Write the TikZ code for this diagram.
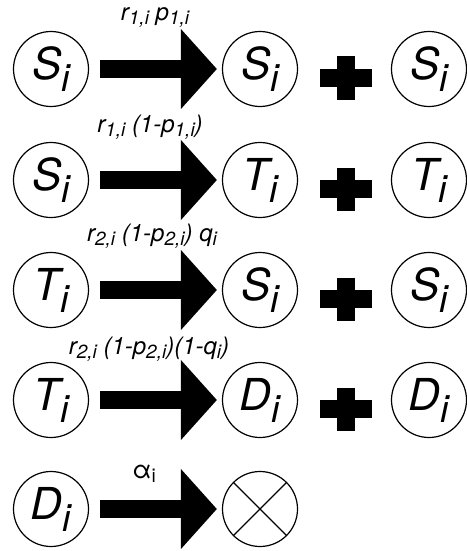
\documentclass[tikz,border=0pt]{standalone}
\usepackage{fontspec}
\setmainfont{TeX Gyre Heros}
\usepackage{tikz}
\usetikzlibrary{arrows.meta}
\newcommand{\idx}[1]{\raisebox{-12pt}{\fontsize{38}{38}\selectfont #1}}
\newcommand{\lo}[1]{\raisebox{-4pt}{\fontsize{19}{19}\selectfont #1}}

\begin{document}
\begin{tikzpicture}[
  x=1pt, y=-1pt,
  species/.style={circle, draw, line width=1.2pt, minimum size=75pt,
    inner sep=0pt, font=\fontsize{44}{44}\selectfont\itshape},
  sink/.style={circle, draw, line width=1.2pt, minimum size=75pt, inner sep=0pt,
    path picture={\draw[line width=1.2pt]
      (path picture bounding box.north west) -- (path picture bounding box.south east)
      (path picture bounding box.north east) -- (path picture bounding box.south west);}},
  plussign/.style={minimum width=52pt, minimum height=43pt, inner sep=0pt,
    path picture={\draw[line width=18pt]
      (path picture bounding box.west) -- (path picture bounding box.east)
      (path picture bounding box.north) -- (path picture bounding box.south);}},
  rate/.style={inner sep=0pt, font=\fontsize{24}{24}\selectfont\itshape},
  fat/.style={line width=18pt, -{Triangle[length=36pt,width=78pt]},
    shorten <=11pt, shorten >=5pt}
]
\useasboundingbox (0,0) rectangle (466,551);

% S -> S + S
\node[species] (s1) at (51,69) {S\idx{i}};
\node[species] (s1a) at (260,69) {S\idx{i}};
\node[plussign] (plus1) at (346,78) {};
\node[species] (s1b) at (429,69) {S\idx{i}};
\node[rate] (k1) at (155,17) {r\lo{1,i} p\lo{1,i}};

% S -> T + T
\node[species] (s2) at (51,180) {S\idx{i}};
\node[species] (t2a) at (260,180) {T\idx{i}};
\node[plussign] (plus2) at (346,189) {};
\node[species] (t2b) at (429,180) {T\idx{i}};
\node[rate] (k2) at (150,127) {r\lo{1,i} (1-p\lo{1,i})};

% T -> S + S
\node[species] (t3) at (51,290) {T\idx{i}};
\node[species] (s3a) at (260,290) {S\idx{i}};
\node[plussign] (plus3) at (346,299) {};
\node[species] (s3b) at (429,290) {S\idx{i}};
\node[rate] (k3) at (152,236) {r\lo{2,i} (1-p\lo{2,i}) q\lo{i}};

% T -> D + D
\node[species] (t4) at (51,400) {T\idx{i}};
\node[species] (d4a) at (260,400) {D\idx{i}};
\node[plussign] (plus4) at (346,409) {};
\node[species] (d4b) at (429,400) {D\idx{i}};
\node[rate] (k4) at (149,349) {r\lo{2,i} (1-p\lo{2,i})(1-q\lo{i})};

% D -> nothing
\node[species] (d5) at (51,509) {D\idx{i}};
\node[sink] (void) at (260,509) {};
\node[rate, font=\fontsize{25}{25}\selectfont] (k5) at (144,474) {α\lo{i}};

\draw[fat] (s1) -- (s1a);
\draw[fat] (s2) -- (t2a);
\draw[fat] (t3) -- (s3a);
\draw[fat] (t4) -- (d4a);
\draw[fat] (d5) -- (void);
\end{tikzpicture}
\end{document}
